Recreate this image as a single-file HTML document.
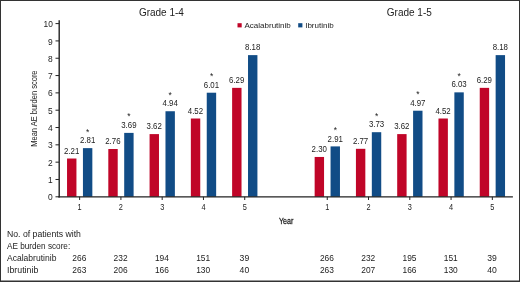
<!DOCTYPE html>
<html><head><meta charset="utf-8"><title>AE burden score</title>
<style>html,body{margin:0;padding:0;background:#fff}svg{display:block;will-change:transform}</style></head>
<body>
<svg width="520" height="282" viewBox="0 0 520 282" font-family="Liberation Sans, sans-serif" fill="#222">
<rect x="0" y="0" width="520" height="282" fill="#fff"/>
<rect x="0.5" y="0.5" width="519" height="281" fill="none" stroke="#333" stroke-width="1"/>
<rect x="0" y="280.5" width="520" height="1.5" fill="#333"/>
<rect x="67.04" y="158.52" width="9.4" height="38.28" fill="#c00528"/>
<rect x="82.94" y="148.13" width="9.4" height="48.67" fill="#114c86"/>
<text x="71.64" y="153.62" font-size="8.8" text-anchor="middle" textLength="15.3" lengthAdjust="spacingAndGlyphs">2.21</text>
<text x="87.64" y="143.23" font-size="8.8" text-anchor="middle" textLength="15.3" lengthAdjust="spacingAndGlyphs">2.81</text>
<text x="87.73" y="134.63" font-size="8.5" text-anchor="middle">*</text>
<rect x="108.31" y="149.00" width="9.4" height="47.80" fill="#c00528"/>
<rect x="124.20" y="132.89" width="9.4" height="63.91" fill="#114c86"/>
<text x="112.91" y="144.10" font-size="8.8" text-anchor="middle" textLength="15.3" lengthAdjust="spacingAndGlyphs">2.76</text>
<text x="128.91" y="127.99" font-size="8.8" text-anchor="middle" textLength="15.3" lengthAdjust="spacingAndGlyphs">3.69</text>
<text x="129.00" y="119.39" font-size="8.5" text-anchor="middle">*</text>
<rect x="149.58" y="134.10" width="9.4" height="62.70" fill="#c00528"/>
<rect x="165.48" y="111.24" width="9.4" height="85.56" fill="#114c86"/>
<text x="154.18" y="129.20" font-size="8.8" text-anchor="middle" textLength="15.3" lengthAdjust="spacingAndGlyphs">3.62</text>
<text x="170.18" y="106.34" font-size="8.8" text-anchor="middle" textLength="15.3" lengthAdjust="spacingAndGlyphs">4.94</text>
<text x="170.28" y="97.74" font-size="8.5" text-anchor="middle">*</text>
<rect x="190.85" y="118.51" width="9.4" height="78.29" fill="#c00528"/>
<rect x="206.75" y="92.71" width="9.4" height="104.09" fill="#114c86"/>
<text x="195.45" y="113.61" font-size="8.8" text-anchor="middle" textLength="15.3" lengthAdjust="spacingAndGlyphs">4.52</text>
<text x="211.45" y="87.81" font-size="8.8" text-anchor="middle" textLength="15.3" lengthAdjust="spacingAndGlyphs">6.01</text>
<text x="211.55" y="79.21" font-size="8.5" text-anchor="middle">*</text>
<rect x="232.12" y="87.86" width="9.4" height="108.94" fill="#c00528"/>
<rect x="248.02" y="55.12" width="9.4" height="141.68" fill="#114c86"/>
<text x="236.72" y="82.96" font-size="8.8" text-anchor="middle" textLength="15.3" lengthAdjust="spacingAndGlyphs">6.29</text>
<text x="252.72" y="50.22" font-size="8.8" text-anchor="middle" textLength="15.3" lengthAdjust="spacingAndGlyphs">8.18</text>
<rect x="314.65" y="156.96" width="9.4" height="39.84" fill="#c00528"/>
<rect x="330.56" y="146.40" width="9.4" height="50.40" fill="#114c86"/>
<text x="319.25" y="152.06" font-size="8.8" text-anchor="middle" textLength="15.3" lengthAdjust="spacingAndGlyphs">2.30</text>
<text x="335.25" y="141.50" font-size="8.8" text-anchor="middle" textLength="15.3" lengthAdjust="spacingAndGlyphs">2.91</text>
<text x="335.36" y="132.90" font-size="8.5" text-anchor="middle">*</text>
<rect x="355.93" y="148.82" width="9.4" height="47.98" fill="#c00528"/>
<rect x="371.83" y="132.20" width="9.4" height="64.60" fill="#114c86"/>
<text x="360.53" y="143.92" font-size="8.8" text-anchor="middle" textLength="15.3" lengthAdjust="spacingAndGlyphs">2.77</text>
<text x="376.53" y="127.30" font-size="8.8" text-anchor="middle" textLength="15.3" lengthAdjust="spacingAndGlyphs">3.73</text>
<text x="376.63" y="118.70" font-size="8.5" text-anchor="middle">*</text>
<rect x="397.19" y="134.10" width="9.4" height="62.70" fill="#c00528"/>
<rect x="413.10" y="110.72" width="9.4" height="86.08" fill="#114c86"/>
<text x="401.80" y="129.20" font-size="8.8" text-anchor="middle" textLength="15.3" lengthAdjust="spacingAndGlyphs">3.62</text>
<text x="417.80" y="105.82" font-size="8.8" text-anchor="middle" textLength="15.3" lengthAdjust="spacingAndGlyphs">4.97</text>
<text x="417.90" y="97.22" font-size="8.5" text-anchor="middle">*</text>
<rect x="438.47" y="118.51" width="9.4" height="78.29" fill="#c00528"/>
<rect x="454.37" y="92.36" width="9.4" height="104.44" fill="#114c86"/>
<text x="443.07" y="113.61" font-size="8.8" text-anchor="middle" textLength="15.3" lengthAdjust="spacingAndGlyphs">4.52</text>
<text x="459.07" y="87.46" font-size="8.8" text-anchor="middle" textLength="15.3" lengthAdjust="spacingAndGlyphs">6.03</text>
<text x="459.17" y="78.86" font-size="8.5" text-anchor="middle">*</text>
<rect x="479.74" y="87.86" width="9.4" height="108.94" fill="#c00528"/>
<rect x="495.64" y="55.12" width="9.4" height="141.68" fill="#114c86"/>
<text x="484.34" y="82.96" font-size="8.8" text-anchor="middle" textLength="15.3" lengthAdjust="spacingAndGlyphs">6.29</text>
<text x="500.34" y="50.22" font-size="8.8" text-anchor="middle" textLength="15.3" lengthAdjust="spacingAndGlyphs">8.18</text>
<path d="M59.20 20.2V197.40" stroke="#222" stroke-width="1.4" fill="none"/>
<path d="M58.40 196.80H512.9" stroke="#222" stroke-width="1.2" fill="none"/>
<path d="M55.5 196.80H59.00" stroke="#222" stroke-width="1" fill="none"/>
<text x="52.8" y="200.40" font-size="9.1" text-anchor="end" textLength="4.7" lengthAdjust="spacingAndGlyphs">0</text>
<path d="M55.5 179.48H59.00" stroke="#222" stroke-width="1" fill="none"/>
<text x="52.8" y="183.08" font-size="9.1" text-anchor="end" textLength="4.7" lengthAdjust="spacingAndGlyphs">1</text>
<path d="M55.5 162.16H59.00" stroke="#222" stroke-width="1" fill="none"/>
<text x="52.8" y="165.76" font-size="9.1" text-anchor="end" textLength="4.7" lengthAdjust="spacingAndGlyphs">2</text>
<path d="M55.5 144.84H59.00" stroke="#222" stroke-width="1" fill="none"/>
<text x="52.8" y="148.44" font-size="9.1" text-anchor="end" textLength="4.7" lengthAdjust="spacingAndGlyphs">3</text>
<path d="M55.5 127.52H59.00" stroke="#222" stroke-width="1" fill="none"/>
<text x="52.8" y="131.12" font-size="9.1" text-anchor="end" textLength="4.7" lengthAdjust="spacingAndGlyphs">4</text>
<path d="M55.5 110.20H59.00" stroke="#222" stroke-width="1" fill="none"/>
<text x="52.8" y="113.80" font-size="9.1" text-anchor="end" textLength="4.7" lengthAdjust="spacingAndGlyphs">5</text>
<path d="M55.5 92.88H59.00" stroke="#222" stroke-width="1" fill="none"/>
<text x="52.8" y="96.48" font-size="9.1" text-anchor="end" textLength="4.7" lengthAdjust="spacingAndGlyphs">6</text>
<path d="M55.5 75.56H59.00" stroke="#222" stroke-width="1" fill="none"/>
<text x="52.8" y="79.16" font-size="9.1" text-anchor="end" textLength="4.7" lengthAdjust="spacingAndGlyphs">7</text>
<path d="M55.5 58.24H59.00" stroke="#222" stroke-width="1" fill="none"/>
<text x="52.8" y="61.84" font-size="9.1" text-anchor="end" textLength="4.7" lengthAdjust="spacingAndGlyphs">8</text>
<path d="M55.5 40.92H59.00" stroke="#222" stroke-width="1" fill="none"/>
<text x="52.8" y="44.52" font-size="9.1" text-anchor="end" textLength="4.7" lengthAdjust="spacingAndGlyphs">9</text>
<path d="M55.5 23.60H59.00" stroke="#222" stroke-width="1" fill="none"/>
<text x="52.8" y="27.20" font-size="9.1" text-anchor="end" textLength="9.3" lengthAdjust="spacingAndGlyphs">10</text>
<path d="M79.64 196.80V200" stroke="#222" stroke-width="1" fill="none"/>
<text x="79.64" y="210.3" font-size="8.7" text-anchor="middle" textLength="4.1" lengthAdjust="spacingAndGlyphs">1</text>
<path d="M120.91 196.80V200" stroke="#222" stroke-width="1" fill="none"/>
<text x="120.91" y="210.3" font-size="8.7" text-anchor="middle" textLength="4.1" lengthAdjust="spacingAndGlyphs">2</text>
<path d="M162.18 196.80V200" stroke="#222" stroke-width="1" fill="none"/>
<text x="162.18" y="210.3" font-size="8.7" text-anchor="middle" textLength="4.1" lengthAdjust="spacingAndGlyphs">3</text>
<path d="M203.45 196.80V200" stroke="#222" stroke-width="1" fill="none"/>
<text x="203.45" y="210.3" font-size="8.7" text-anchor="middle" textLength="4.1" lengthAdjust="spacingAndGlyphs">4</text>
<path d="M244.72 196.80V200" stroke="#222" stroke-width="1" fill="none"/>
<text x="244.72" y="210.3" font-size="8.7" text-anchor="middle" textLength="4.1" lengthAdjust="spacingAndGlyphs">5</text>
<path d="M327.25 196.80V200" stroke="#222" stroke-width="1" fill="none"/>
<text x="327.25" y="210.3" font-size="8.7" text-anchor="middle" textLength="4.1" lengthAdjust="spacingAndGlyphs">1</text>
<path d="M368.53 196.80V200" stroke="#222" stroke-width="1" fill="none"/>
<text x="368.53" y="210.3" font-size="8.7" text-anchor="middle" textLength="4.1" lengthAdjust="spacingAndGlyphs">2</text>
<path d="M409.80 196.80V200" stroke="#222" stroke-width="1" fill="none"/>
<text x="409.80" y="210.3" font-size="8.7" text-anchor="middle" textLength="4.1" lengthAdjust="spacingAndGlyphs">3</text>
<path d="M451.07 196.80V200" stroke="#222" stroke-width="1" fill="none"/>
<text x="451.07" y="210.3" font-size="8.7" text-anchor="middle" textLength="4.1" lengthAdjust="spacingAndGlyphs">4</text>
<path d="M492.34 196.80V200" stroke="#222" stroke-width="1" fill="none"/>
<text x="492.34" y="210.3" font-size="8.7" text-anchor="middle" textLength="4.1" lengthAdjust="spacingAndGlyphs">5</text>
<text x="161.4" y="15.7" font-size="10" text-anchor="middle">Grade 1-4</text>
<text x="409.3" y="15.7" font-size="10" text-anchor="middle">Grade 1-5</text>
<rect x="237.5" y="23.2" width="4.2" height="4.2" fill="#c00528"/>
<text x="244.5" y="27.6" font-size="8">Acalabrutinib</text>
<rect x="298.2" y="23.2" width="4.2" height="4.2" fill="#114c86"/>
<text x="305.2" y="27.6" font-size="8">Ibrutinib</text>
<text x="286.1" y="223.7" font-size="9.3" stroke="#222" stroke-width="0.3" text-anchor="middle" textLength="14.4" lengthAdjust="spacingAndGlyphs">Year</text>
<text transform="translate(37.3 108.6) rotate(-90)" font-size="8.7" text-anchor="middle" textLength="76.3" lengthAdjust="spacingAndGlyphs">Mean AE burden score</text>
<text x="7" y="236.9" font-size="8.6" textLength="73.9" lengthAdjust="spacingAndGlyphs">No. of patients with</text>
<text x="7" y="249" font-size="8.6" textLength="63.2" lengthAdjust="spacingAndGlyphs">AE burden score:</text>
<text x="7" y="261.1" font-size="8.6" textLength="49.4" lengthAdjust="spacingAndGlyphs">Acalabrutinib</text>
<text x="7" y="273.1" font-size="8.6" textLength="31.3" lengthAdjust="spacingAndGlyphs">Ibrutinib</text>
<text x="79.34" y="260.7" font-size="9.1" text-anchor="middle" textLength="14.0" lengthAdjust="spacingAndGlyphs">266</text>
<text x="79.34" y="272.7" font-size="9.1" text-anchor="middle" textLength="14.0" lengthAdjust="spacingAndGlyphs">263</text>
<text x="120.61" y="260.7" font-size="9.1" text-anchor="middle" textLength="14.0" lengthAdjust="spacingAndGlyphs">232</text>
<text x="120.61" y="272.7" font-size="9.1" text-anchor="middle" textLength="14.0" lengthAdjust="spacingAndGlyphs">206</text>
<text x="161.88" y="260.7" font-size="9.1" text-anchor="middle" textLength="14.0" lengthAdjust="spacingAndGlyphs">194</text>
<text x="161.88" y="272.7" font-size="9.1" text-anchor="middle" textLength="14.0" lengthAdjust="spacingAndGlyphs">166</text>
<text x="203.15" y="260.7" font-size="9.1" text-anchor="middle" textLength="14.0" lengthAdjust="spacingAndGlyphs">151</text>
<text x="203.15" y="272.7" font-size="9.1" text-anchor="middle" textLength="14.0" lengthAdjust="spacingAndGlyphs">130</text>
<text x="244.41" y="260.7" font-size="9.1" text-anchor="middle" textLength="9.6" lengthAdjust="spacingAndGlyphs">39</text>
<text x="244.41" y="272.7" font-size="9.1" text-anchor="middle" textLength="9.6" lengthAdjust="spacingAndGlyphs">40</text>
<text x="326.95" y="260.7" font-size="9.1" text-anchor="middle" textLength="14.0" lengthAdjust="spacingAndGlyphs">266</text>
<text x="326.95" y="272.7" font-size="9.1" text-anchor="middle" textLength="14.0" lengthAdjust="spacingAndGlyphs">263</text>
<text x="368.23" y="260.7" font-size="9.1" text-anchor="middle" textLength="14.0" lengthAdjust="spacingAndGlyphs">232</text>
<text x="368.23" y="272.7" font-size="9.1" text-anchor="middle" textLength="14.0" lengthAdjust="spacingAndGlyphs">207</text>
<text x="409.50" y="260.7" font-size="9.1" text-anchor="middle" textLength="14.0" lengthAdjust="spacingAndGlyphs">195</text>
<text x="409.50" y="272.7" font-size="9.1" text-anchor="middle" textLength="14.0" lengthAdjust="spacingAndGlyphs">166</text>
<text x="450.77" y="260.7" font-size="9.1" text-anchor="middle" textLength="14.0" lengthAdjust="spacingAndGlyphs">151</text>
<text x="450.77" y="272.7" font-size="9.1" text-anchor="middle" textLength="14.0" lengthAdjust="spacingAndGlyphs">130</text>
<text x="492.04" y="260.7" font-size="9.1" text-anchor="middle" textLength="9.6" lengthAdjust="spacingAndGlyphs">39</text>
<text x="492.04" y="272.7" font-size="9.1" text-anchor="middle" textLength="9.6" lengthAdjust="spacingAndGlyphs">40</text>
</svg>
</body></html>
